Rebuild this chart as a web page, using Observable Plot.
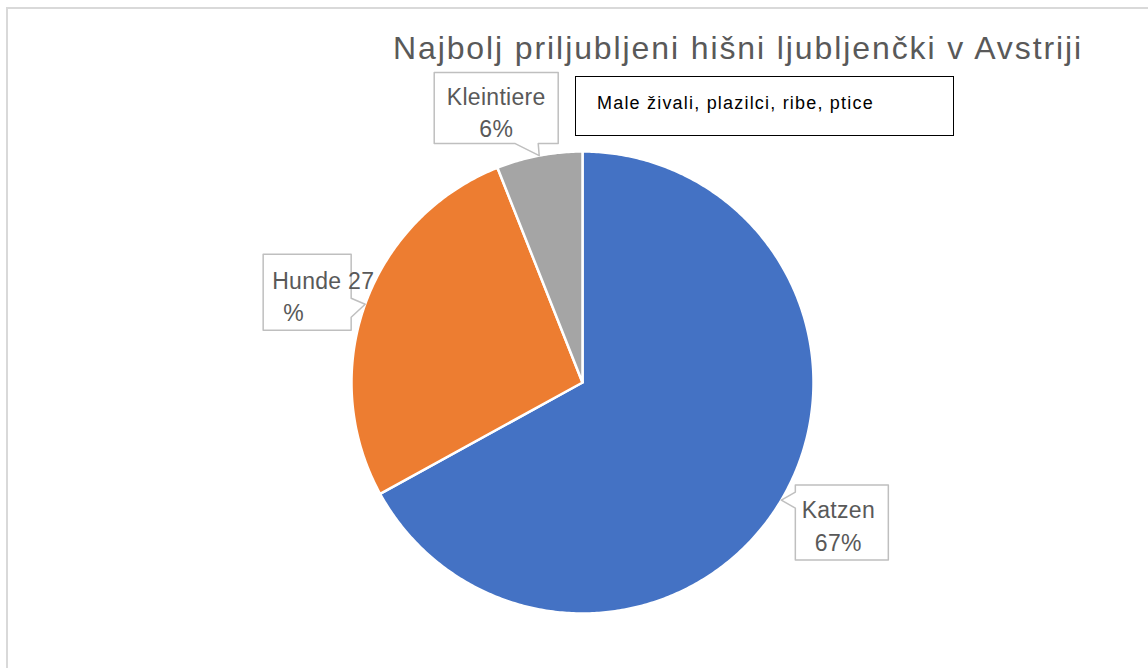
<!DOCTYPE html>
<html>
<head>
<meta charset="utf-8">
<script src="https://cdn.jsdelivr.net/npm/d3@7"></script>
<script src="https://cdn.jsdelivr.net/npm/@observablehq/plot@0.6"></script>
<style>
  html, body { margin: 0; padding: 0; background: #fff; }
  #wrap { position: relative; width: 1148px; height: 668px; overflow: hidden; font-family: "Liberation Sans", Arial, sans-serif; }
  #frame { position: absolute; left: 6px; top: 7px; width: 1200px; height: 700px; border: 2px solid #d9d9d9; box-sizing: border-box; }
  #title { position: absolute; left: 0; width: 1476px; top: 30px; text-align: center; font-size: 32px; color: #595959; letter-spacing: 1.9px; white-space: nowrap; }
  #note { position: absolute; left: 575px; top: 76px; width: 379px; height: 60px; border: 1px solid #000; box-sizing: border-box; background: #fff; }
  #note span { position: absolute; left: 21px; top: 16px; font-size: 18px; color: #000; letter-spacing: 1.2px; white-space: nowrap; }
  #chart { position: absolute; left: 0; top: 0; }
</style>
</head>
<body>
<div id="wrap">
  <div id="frame"></div>
  <div id="chart"></div>
  <div id="title"></div>
  <div id="note"><span></span></div>
</div>
<script>
// ---- data ----
const titleText = "Najbolj priljubljeni hišni ljubljenčki v Avstriji";
const noteText = "Male živali, plazilci, ribe, ptice";
const categories = ["Katzen", "Hunde", "Kleintiere"];
const shares = [67, 27, 6];
const labelLine1 = ["Katzen", "Hunde 27", "Kleintiere"];
const labelLine2 = ["67%", "%", "6%"];
const colors = ["#4472C4", "#ED7D31", "#A5A5A5"];

// ---- layout (pixels) ----
const W = 1148, H = 668;
const cx = 582, cy = 382, R = 231;
// callout boxes relative to the pointer tip (px)
const callouts = {
  Katzen:     {box: [14, -15, 107, 60], side: "left",   base: [-8, 8],   text: [57, 11], text2: [57, 44], align: "middle"},
  Hunde:      {box: [-102, -50, -14, 26], side: "right", base: [-6, 13],  text: [-93, -23], text2: [-82, 9], align: "start"},
  Kleintiere: {box: [-105, -83, 19, -12], side: "bottom", base: [-24, -1], text: [-43, -58], text2: [-43, -26], align: "middle"}
};

document.getElementById("title").textContent = titleText;
document.querySelector("#note span").textContent = noteText;

const pie = d3.pie().sort(null).value(d => d)(shares);
const toXY = (a, r) => [r * Math.sin(a), r * Math.cos(a)];
const px = 1 / R; // data units per pixel

const marks = [];
pie.forEach((p, i) => {
  const pts = [{x: 0, y: 0}];
  const n = Math.max(2, Math.ceil((p.endAngle - p.startAngle) / 0.01));
  for (let k = 0; k <= n; k++) {
    const a = p.startAngle + (p.endAngle - p.startAngle) * k / n;
    const [x, y] = toXY(a, 1);
    pts.push({x, y});
  }
  marks.push(Plot.line(pts, {x: "x", y: "y", curve: "linear-closed", fill: colors[i], stroke: "#fff", strokeWidth: 2.5, strokeLinejoin: "round"}));
});

// callouts
const textData = [];
pie.forEach((p, i) => {
  const cat = categories[i];
  const c = callouts[cat];
  const mid = (p.startAngle + p.endAngle) / 2;
  const [tx, ty] = toXY(mid, 1);
  const P = (dx, dy) => ({x: tx + dx * px, y: ty - dy * px});
  const [x0, y0, x1, y1] = c.box;
  let poly;
  if (c.side === "left") {
    poly = [P(x0, y0), P(x1, y0), P(x1, y1), P(x0, y1), P(x0, c.base[1]), P(0, 0), P(x0, c.base[0])];
  } else if (c.side === "right") {
    poly = [P(x0, y0), P(x1, y0), P(x1, c.base[0]), P(0, 0), P(x1, c.base[1]), P(x1, y1), P(x0, y1)];
  } else {
    poly = [P(x0, y0), P(x1, y0), P(x1, y1), P(c.base[1], y1), P(0, 0), P(c.base[0], y1), P(x0, y1)];
  }
  marks.push(Plot.line(poly, {x: "x", y: "y", curve: "linear-closed", fill: "#fff", stroke: "#bfbfbf", strokeWidth: 1.5}));
  const t1 = P(c.text[0], c.text[1]);
  const t2 = P(c.text2[0], c.text2[1]);
  textData.push({x: t1.x, y: t1.y, t: labelLine1[i], a: c.align});
  textData.push({x: t2.x, y: t2.y, t: labelLine2[i], a: c.align});
});
["start", "middle"].forEach(a => {
  marks.push(Plot.text(textData.filter(d => d.a === a), {x: "x", y: "y", text: "t", textAnchor: a, fill: "#595959", fontSize: 23, lineAnchor: "middle", fontFamily: "Liberation Sans, Arial, sans-serif"}));
});

const chart = Plot.plot({
  width: W, height: H,
  margin: 0,
  x: {domain: [-cx / R, (W - cx) / R], range: [0, W], axis: null},
  y: {domain: [-(H - cy) / R, cy / R], range: [H, 0], axis: null},
  style: {background: "transparent", overflow: "visible"},
  marks
});
chart.querySelectorAll("text").forEach(t => t.style.letterSpacing = "0.3px");
document.getElementById("chart").appendChild(chart);
</script>
</body>
</html>
